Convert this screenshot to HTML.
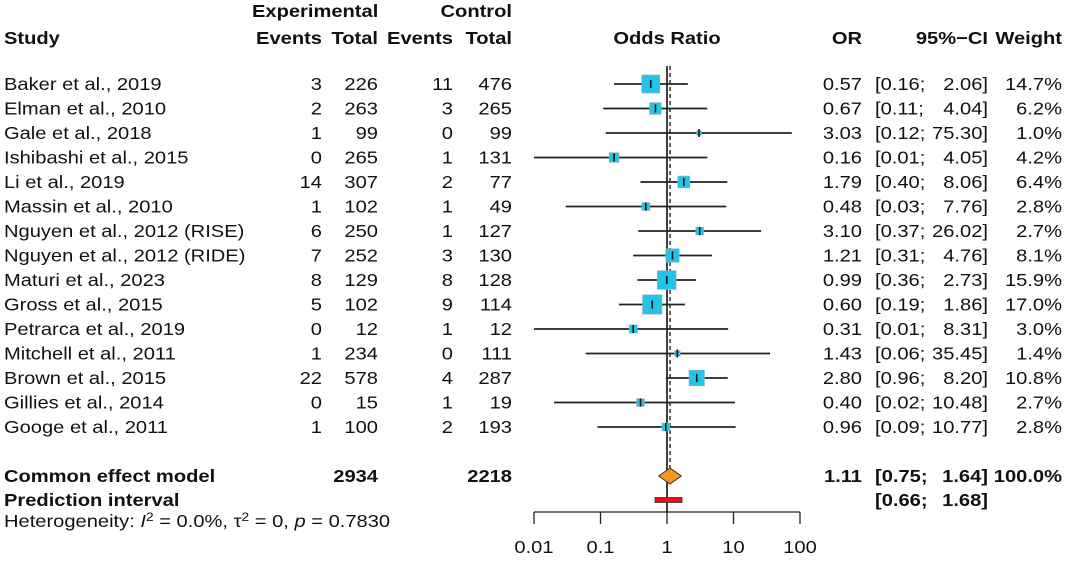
<!DOCTYPE html>
<html><head><meta charset="utf-8"><style>
html,body{margin:0;padding:0;background:#fff;}
svg text{font-family:"Liberation Sans",Arial,sans-serif;font-size:17.5px;fill:#111;}
.b{font-weight:bold;}
</style></head><body>
<svg id="plot" width="1065" height="558" viewBox="0 0 1065 558" xmlns="http://www.w3.org/2000/svg">
<g id="hdr"></g>
<g id="rows"></g>
<g id="marks"></g>
<g id="summary"></g>
<g id="axis"></g>
</svg>
<script>
const studies=["Baker et al., 2019","Elman et al., 2010","Gale et al., 2018","Ishibashi et al., 2015","Li et al., 2019","Massin et al., 2010","Nguyen et al., 2012 (RISE)","Nguyen et al., 2012 (RIDE)","Maturi et al., 2023","Gross et al., 2015","Petrarca et al., 2019","Mitchell et al., 2011","Brown et al., 2015","Gillies et al., 2014","Googe et al., 2011"];
const expEvents=[3,2,1,0,14,1,6,7,8,5,0,1,22,0,1];
const expTotal=[226,263,99,265,307,102,250,252,129,102,12,234,578,15,100];
const ctrlEvents=[11,3,0,1,2,1,1,3,8,9,1,0,4,1,2];
const ctrlTotal=[476,265,99,131,77,49,127,130,128,114,12,111,287,19,193];
const orVals=[0.57,0.67,3.03,0.16,1.79,0.48,3.10,1.21,0.99,0.60,0.31,1.43,2.80,0.40,0.96];
const ciLow=[0.16,0.11,0.12,0.01,0.40,0.03,0.37,0.31,0.36,0.19,0.01,0.06,0.96,0.02,0.09];
const ciHigh=[2.06,4.04,75.30,4.05,8.06,7.76,26.02,4.76,2.73,1.86,8.31,35.45,8.20,10.48,10.77];
const weights=[14.7,6.2,1.0,4.2,6.4,2.8,2.7,8.1,15.9,17.0,3.0,1.4,10.8,2.7,2.8];
const pooled=[1.11,0.75,1.64];
const predInt=[0.66,1.68];
const totals=[2934,2218];
const ticks=[0.01,0.1,1,10,100];
const tickLabels=["0.01","0.1","1","10","100"];

const NS="http://www.w3.org/2000/svg";
const SX=1.15;
const xS=v=>667+66.5*Math.log10(v);
const yS=i=>84+24.5*i;
function el(parent,tag,attrs,txt){const e=document.createElementNS(NS,tag);for(const k in attrs)e.setAttribute(k,attrs[k]);if(txt!==undefined)e.textContent=txt;document.getElementById(parent).appendChild(e);return e;}
function tx(parent,x,y,s,anchor,cls,extra){
  const a={x:x/SX,y:y,transform:`scale(${SX},1)`};
  if(anchor)a['text-anchor']=anchor;
  if(cls)a['class']=cls;
  if(extra)a.style=extra;
  return el(parent,'text',a,s);
}
const f2=v=>v.toFixed(2);

let t;
t=tx('hdr',252,17,'Experimental',null,'b');


t=tx('hdr',512,17,'Control','end','b');


const hd=[[4,'Study',null],[322,'Events','end'],[378,'Total','end'],[453,'Events','end'],[512,'Total','end'],[667,'Odds Ratio','middle'],[862,'OR','end'],[988,'95%−CI','end'],[1062,'Weight','end']];
hd.forEach(h=>{
  const e=tx('hdr',h[0],44,h[1],h[2],'b');
  
  
});

studies.forEach((s,i)=>{
  const ty=yS(i)+6;
  let e=tx('rows',4,ty,s);
  
  
  e=tx('rows',322,ty,expEvents[i],'end');
  
  
  e=tx('rows',378,ty,expTotal[i],'end');
  
  
  e=tx('rows',453,ty,ctrlEvents[i],'end');
  
  
  e=tx('rows',512,ty,ctrlTotal[i],'end');
  
  
  e=tx('rows',862,ty,f2(orVals[i]),'end');
  
  
  e=tx('rows',875,ty,'['+f2(ciLow[i])+';');
  
  
  e=tx('rows',988,ty,f2(ciHigh[i])+']','end');
  
  
  e=tx('rows',1062,ty,weights[i].toFixed(1)+'%','end');
  
  
});

let l=el('marks','line',{x1:xS(1),x2:xS(1),y1:66,y2:512,stroke:'#111','stroke-width':1.6});


l=el('marks','line',{x1:xS(pooled[0]),x2:xS(pooled[0]),y1:66,y2:468,stroke:'#111','stroke-width':1.3,'stroke-dasharray':'4,3'});



studies.forEach((s,i)=>{
  const y=yS(i);
  const a=el('marks','line',{x1:xS(ciLow[i]),x2:xS(ciHigh[i]),y1:y,y2:y,stroke:'#222','stroke-width':1.7});
  
  
  const sz=4.7*Math.sqrt(weights[i]);
  const b=el('marks','rect',{x:xS(orVals[i])-sz/2,y:y-sz/2,width:sz,height:sz,fill:'#22c4e8',stroke:'#9ab','stroke-width':0.6});
  
  
  const c=el('marks','line',{x1:xS(orVals[i]),x2:xS(orVals[i]),y1:y-4,y2:y+4,stroke:'#111','stroke-width':1.6});
  
  
});

const sy=476;
t=tx('summary',4,sy+6,'Common effect model',null,'b');


t=tx('summary',378,sy+6,totals[0],'end','b');


t=tx('summary',512,sy+6,totals[1],'end','b');


t=tx('summary',862,sy+6,f2(pooled[0]),'end','b');


t=tx('summary',875,sy+6,'['+f2(pooled[1])+';',null,'b');


t=tx('summary',988,sy+6,f2(pooled[2])+']','end','b');


t=tx('summary',1062,sy+6,'100.0%','end','b');


const d=el('summary','polygon',{points:`${xS(pooled[1])},${sy} ${xS(pooled[0])},${sy-8} ${xS(pooled[2])},${sy} ${xS(pooled[0])},${sy+8}`,fill:'#f7941d',stroke:'#333','stroke-width':1});


const py=500;
t=tx('summary',4,py+6,'Prediction interval',null,'b');


t=tx('summary',875,py+6,'['+f2(predInt[0])+';',null,'b');


t=tx('summary',988,py+6,f2(predInt[1])+']','end','b');


const r=el('summary','rect',{x:xS(predInt[0]),y:py-2.5,width:xS(predInt[1])-xS(predInt[0]),height:5,fill:'#e8101a',stroke:'#333','stroke-width':0.8});


const h=tx('summary',4,527,'',null,null,'font-size:17.5px');
h.innerHTML='Heterogeneity: <tspan font-style="italic">I</tspan><tspan dy="-6" style="font-size:12px">2</tspan><tspan dy="6"> = 0.0%, τ</tspan><tspan dy="-6" style="font-size:12px">2</tspan><tspan dy="6"> = 0, </tspan><tspan font-style="italic">p</tspan> = 0.7830';



const ax=el('axis','line',{x1:xS(ticks[0]),x2:xS(ticks[ticks.length-1]),y1:512,y2:512,stroke:'#222','stroke-width':1.3});


ticks.forEach((v,i)=>{
  const k=el('axis','line',{x1:xS(v),x2:xS(v),y1:512,y2:524,stroke:'#222','stroke-width':1.3});
  
  
  const lb=tx('axis',xS(v),553,tickLabels[i],'middle');
  
  
});
</script>
</body></html>
